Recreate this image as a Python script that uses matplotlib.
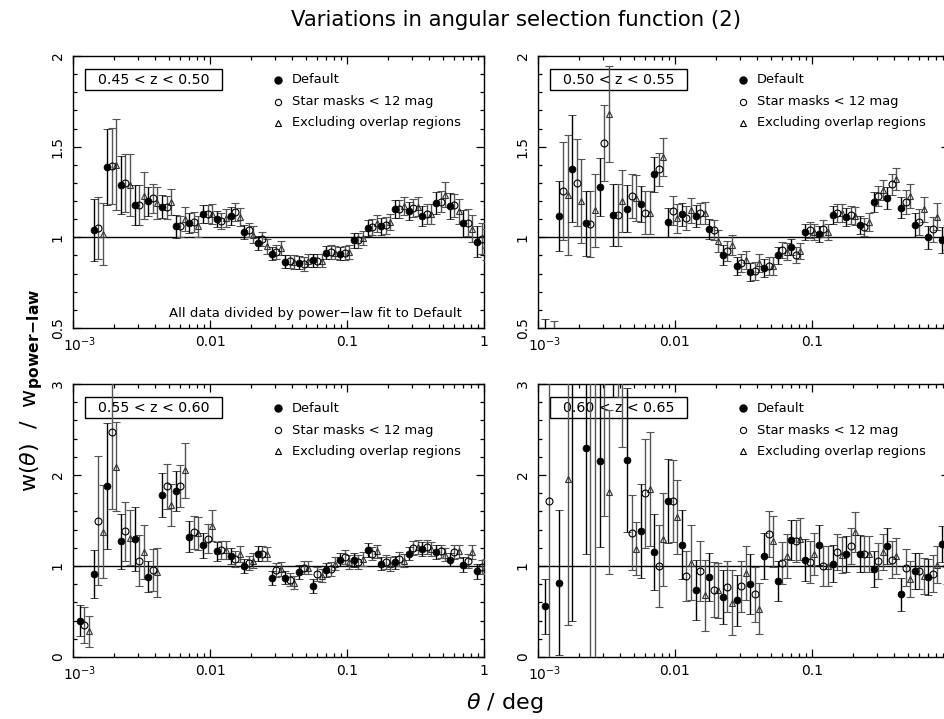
import numpy as np
import matplotlib
matplotlib.use("Agg")
import matplotlib.pyplot as plt
import matplotlib.transforms as mtransforms
from matplotlib.ticker import FixedLocator, FixedFormatter, MultipleLocator, LogLocator, NullFormatter
from matplotlib.patches import Rectangle

nan = np.nan

# angular bins (deg)
theta = [0.001122, 0.001413, 0.001778, 0.002239, 0.002818, 0.003548, 0.004467, 0.005623,
         0.007079, 0.008913, 0.01122, 0.01413, 0.01778, 0.02239, 0.02818, 0.03548, 0.04467,
         0.05623, 0.07079, 0.08913, 0.1122, 0.1413, 0.1778, 0.2239, 0.2818, 0.3548, 0.4467,
         0.5623, 0.7079, 0.8913]

labels_z = ["0.45 < z < 0.50", "0.50 < z < 0.55", "0.55 < z < 0.60", "0.60 < z < 0.65"]
series_names = ["Default", "Star masks < 12 mag", "Excluding overlap regions"]

# ---- panel 1 : 0.45 < z < 0.50
p1_def = [nan, 1.04, 1.39, 1.29, 1.18, 1.20, 1.17, 1.06, 1.08, 1.13, 1.10, 1.12, 1.03, 0.97, 0.91,
          0.866, 0.86, 0.873, 0.915, 0.91, 0.983, 1.05, 1.06, 1.154, 1.147, 1.116, 1.19, 1.173, 1.077, 0.976]
p1_def_e = [nan, 0.17, 0.21, 0.16, 0.11, 0.08, 0.065, 0.063, 0.055, 0.05, 0.045, 0.05, 0.04, 0.038, 0.037,
            0.036, 0.036, 0.036, 0.037, 0.037, 0.04, 0.045, 0.045, 0.05, 0.05, 0.055, 0.06, 0.07, 0.075, 0.085]
p1_str = [nan, 1.05, 1.395, 1.30, 1.18, 1.215, 1.165, 1.06, 1.085, 1.13, 1.09, 1.14, 1.04, 0.99, 0.92,
          0.868, 0.853, 0.87, 0.92, 0.914, 0.983, 1.057, 1.066, 1.156, 1.16, 1.127, 1.197, 1.176, 1.08, 0.993]
p1_str_e = [nan, 0.17, 0.21, 0.16, 0.11, 0.08, 0.065, 0.06, 0.055, 0.05, 0.045, 0.05, 0.04, 0.04, 0.037,
            0.036, 0.036, 0.036, 0.037, 0.037, 0.04, 0.045, 0.045, 0.05, 0.05, 0.055, 0.06, 0.065, 0.075, 0.085]
p1_exc = [nan, 1.02, 1.40, 1.29, 1.23, 1.19, 1.195, 1.10, 1.06, 1.13, 1.105, 1.11, 1.015, 0.95, 0.94,
          0.864, 0.87, 0.87, 0.915, 0.92, 0.996, 1.077, 1.085, 1.173, 1.17, 1.129, 1.235, 1.143, 1.048, 0.96]
p1_exc_e = [nan, 0.17, 0.25, 0.17, 0.13, 0.09, 0.07, 0.065, 0.06, 0.055, 0.05, 0.05, 0.045, 0.04, 0.04,
            0.036, 0.036, 0.036, 0.037, 0.037, 0.04, 0.045, 0.045, 0.05, 0.05, 0.055, 0.07, 0.07, 0.075, 0.085]

# ---- panel 2 : 0.50 < z < 0.55
p2_def = [0.40, 1.118, 1.377, 1.077, 1.276, 1.123, 1.158, 1.184, 1.347, 1.083, 1.127, 1.118, 1.044, 0.904, 0.84,
          0.81, 0.833, 0.90, 0.945, 1.028, 1.02, 1.123, 1.112, 1.068, 1.193, 1.215, 1.164, 1.068, 1.0, 0.985]
p2_def_e = [0.15, 0.195, 0.295, 0.18, 0.16, 0.17, 0.13, 0.10, 0.095, 0.08, 0.065, 0.06, 0.055, 0.055, 0.05,
            0.05, 0.05, 0.045, 0.045, 0.045, 0.045, 0.05, 0.05, 0.05, 0.055, 0.06, 0.06, 0.065, 0.065, 0.07]
p2_str = [nan, 1.257, 1.30, 1.074, 1.522, 1.123, 1.228, 1.136, 1.375, 1.147, 1.107, 1.132, 1.04, 0.926, 0.857,
          0.816, 0.844, 0.93, 0.903, 1.04, 1.048, 1.136, 1.125, 1.057, 1.226, 1.292, 1.195, 1.085, 1.044, 1.0]
p2_str_e = [nan, 0.27, 0.24, 0.18, 0.21, 0.17, 0.12, 0.12, 0.09, 0.08, 0.065, 0.06, 0.055, 0.055, 0.05,
            0.05, 0.05, 0.045, 0.045, 0.045, 0.045, 0.05, 0.05, 0.05, 0.055, 0.06, 0.065, 0.07, 0.07, 0.07]
p2_exc = [0.38, 1.235, 1.20, 1.149, 1.678, 1.20, 1.217, 1.136, 1.443, 1.105, 1.149, 1.136, 0.98, 0.958, 0.877,
          0.857, 0.842, 0.921, 0.923, 1.031, 1.03, 1.134, 1.12, 1.083, 1.26, 1.32, 1.228, 1.154, 1.114, 1.0]
p2_exc_e = [0.16, 0.33, 0.23, 0.20, 0.265, 0.17, 0.125, 0.12, 0.105, 0.08, 0.07, 0.06, 0.06, 0.055, 0.05,
            0.05, 0.05, 0.045, 0.045, 0.045, 0.045, 0.05, 0.05, 0.05, 0.055, 0.06, 0.065, 0.07, 0.075, 0.075]

# ---- panel 3 : 0.55 < z < 0.60
p3_def = [0.396, 0.91, 1.88, 1.27, 1.30, 0.88, 1.78, 1.82, 1.32, 1.228, 1.16, 1.107, 1.0, 1.137, 0.865,
          0.873, 0.935, 0.777, 0.953, 1.07, 1.063, 1.173, 1.027, 1.04, 1.137, 1.19, 1.155, 1.07, 1.015, 0.94]
p3_def_e = [0.17, 0.265, 0.69, 0.30, 0.35, 0.17, 0.24, 0.22, 0.17, 0.14, 0.10, 0.09, 0.08, 0.08, 0.075,
            0.075, 0.075, 0.075, 0.075, 0.075, 0.075, 0.075, 0.075, 0.075, 0.075, 0.075, 0.075, 0.075, 0.08, 0.08]
p3_str = [0.352, 1.50, 2.475, 1.38, 1.056, 0.953, 1.874, 1.877, 1.37, 1.30, 1.18, 1.074, 1.034, 1.137, 0.953,
          0.85, 0.983, 0.91, 0.968, 1.10, 1.045, 1.137, 1.045, 1.078, 1.20, 1.21, 1.16, 1.155, 1.056, 0.99]
p3_str_e = [0.20, 0.71, 0.85, 0.32, 0.28, 0.23, 0.25, 0.23, 0.18, 0.16, 0.10, 0.09, 0.08, 0.08, 0.075,
            0.075, 0.075, 0.075, 0.075, 0.075, 0.075, 0.075, 0.075, 0.075, 0.075, 0.075, 0.075, 0.075, 0.08, 0.08]
p3_exc = [0.282, 1.375, 2.09, 1.31, 1.155, 0.93, 1.67, 2.05, 1.36, 1.44, 1.18, 1.13, 1.06, 1.13, 0.97,
          0.818, 0.983, 0.895, 1.027, 1.045, 1.08, 1.16, 1.023, 1.06, 1.21, 1.19, 1.126, 1.16, 1.155, 1.0]
p3_exc_e = [0.17, 0.51, 0.49, 0.30, 0.30, 0.27, 0.23, 0.30, 0.18, 0.17, 0.10, 0.09, 0.08, 0.08, 0.075,
            0.075, 0.075, 0.075, 0.075, 0.075, 0.075, 0.075, 0.075, 0.075, 0.075, 0.075, 0.075, 0.075, 0.08, 0.08]

# ---- panel 4 : 0.60 < z < 0.65
p4_def = [0.557, 0.818, 3.6, 2.30, 2.156, 3.6, 2.164, 1.383, 1.155, 1.716, 1.236, 0.74, 0.88, 0.66, 0.623,
          0.807, 1.11, 0.836, 1.283, 1.063, 1.228, 1.027, 1.13, 1.137, 0.964, 1.221, 0.69, 0.942, 0.88, 1.24]
p4_def_e = [0.30, 0.80, 3.2, 1.17, 0.95, 0.74, 0.79, 0.52, 0.42, 0.46, 0.38, 0.33, 0.26, 0.30, 0.28,
            0.33, 0.25, 0.22, 0.22, 0.23, 0.22, 0.20, 0.20, 0.20, 0.20, 0.20, 0.18, 0.20, 0.20, 0.20]
p4_str = [1.716, nan, nan, -1.0, 3.2, 3.7, 1.368, 1.797, 1.0, 1.712, 0.89, 0.94, 0.74, 0.77, 0.78,
          0.69, 1.35, 1.034, 1.276, 1.045, 0.997, 1.155, 1.217, 1.13, 1.056, 1.07, 0.983, 0.946, 0.917, 1.0]
p4_str_e = [2.5, nan, nan, 4.5, 1.65, 0.84, 0.41, 0.60, 0.45, 0.45, 0.27, 0.33, 0.30, 0.28, 0.28,
            0.30, 0.25, 0.23, 0.23, 0.23, 0.22, 0.20, 0.20, 0.20, 0.20, 0.20, 0.20, 0.20, 0.20, 0.20]
p4_exc = [nan, 1.955, nan, 4.0, 1.815, 3.6, 1.19, 1.845, 1.294, 1.54, 1.038, 0.678, 0.733, 0.598, 0.924,
          0.532, 1.27, 1.11, 1.298, 1.13, 0.997, 1.118, 1.375, 1.13, 1.155, 1.11, 0.854, 0.887, 1.016, 1.0]
p4_exc_e = [nan, 1.6, nan, 4.5, 0.90, 1.29, 0.29, 0.63, 0.51, 0.41, 0.41, 0.39, 0.30, 0.36, 0.30,
            0.28, 0.28, 0.24, 0.23, 0.23, 0.22, 0.20, 0.22, 0.20, 0.20, 0.20, 0.20, 0.20, 0.20, 0.20]

panels = [
    (p1_def, p1_def_e, p1_str, p1_str_e, p1_exc, p1_exc_e),
    (p2_def, p2_def_e, p2_str, p2_str_e, p2_exc, p2_exc_e),
    (p3_def, p3_def_e, p3_str, p3_str_e, p3_exc, p3_exc_e),
    (p4_def, p4_def_e, p4_str, p4_str_e, p4_exc, p4_exc_e),
]
ylims = [(0.5, 2.0), (0.5, 2.0), (0.0, 3.0), (0.0, 3.0)]

plt.rcParams['font.family'] = ['DejaVu Sans']
plt.rcParams['mathtext.fontset'] = 'dejavusans'

W, H = 944, 719
fig = plt.figure(figsize=(W / 100, H / 100), dpi=100)

# panel frames in pixels: (left, top, right, bottom)
frames = [(73, 56, 484, 328), (538, 56, 949, 328), (73, 384, 484, 657), (538, 384, 949, 657)]

th = np.array(theta)
off_c = 10 ** 0.033
off_t = 10 ** 0.066
grey = '#555555'

for i, (fr, data, yl, zl) in enumerate(zip(frames, panels, ylims, labels_z)):
    l, t, r, b = fr
    ax = fig.add_axes([l / W, 1 - b / H, (r - l) / W, (b - t) / H])
    ax.set_xscale('log')
    ax.set_xlim(1e-3, 1)
    ax.set_ylim(*yl)
    d, de, s, se, e, ee = data
    ax.axhline(1.0, color='black', lw=1.0, zorder=2)
    ax.errorbar(th * off_t, e, yerr=ee, fmt='^', ms=4.2, mfc='none', mec='#333333', mew=0.8,
                ecolor=grey, elinewidth=1.0, capsize=3.2, capthick=1.0, zorder=3)
    ax.errorbar(th * off_c, s, yerr=se, fmt='o', ms=5.0, mfc='none', mec='black', mew=0.8,
                ecolor=grey, elinewidth=1.0, capsize=3.2, capthick=1.0, zorder=4)
    ax.errorbar(th, d, yerr=de, fmt='o', ms=5.0, mfc='black', mec='black', mew=0.5,
                ecolor='black', elinewidth=1.0, capsize=3.2, capthick=1.0, zorder=5)

    # redshift box
    ax.add_patch(Rectangle((0.029, 0.875), 0.334, 0.077, transform=ax.transAxes,
                           facecolor='white', edgecolor='black', lw=1.0, zorder=1))
    ax.text(0.196, 0.9135, zl, transform=ax.transAxes, ha='center', va='center',
            fontsize=10.2, zorder=1.5)

    # legend
    ly = [0.912, 0.831, 0.754]
    ax.plot([0.499], [ly[0]], 'o', ms=5, mfc='black', mec='black', transform=ax.transAxes)
    ax.plot([0.499], [ly[1]], 'o', ms=4.5, mfc='none', mec='black', mew=0.8, transform=ax.transAxes)
    ax.plot([0.499], [ly[2]], '^', ms=4.2, mfc='none', mec='black', mew=0.8, transform=ax.transAxes)
    for yy, nm in zip(ly, series_names):
        ax.text(0.533, yy, nm, transform=ax.transAxes, ha='left', va='center', fontsize=9.4)

    if i == 0:
        ax.text(0.947, 0.055, "All data divided by power\u2212law fit to Default",
                transform=ax.transAxes, ha='right', va='center', fontsize=9.5)

    xlabs = [r'$10^{-3}$', '0.01', '0.1', '1'] if l < 500 else [r'$10^{-3}$', '0.01', '0.1', '']
    ax.xaxis.set_major_locator(FixedLocator([1e-3, 1e-2, 1e-1, 1]))
    ax.xaxis.set_major_formatter(FixedFormatter(xlabs))
    ax.xaxis.set_minor_locator(LogLocator(base=10, subs=np.arange(2, 10)))
    ax.xaxis.set_minor_formatter(NullFormatter())
    if yl[1] == 2.0:
        ax.yaxis.set_major_locator(FixedLocator([0.5, 1.0, 1.5, 2.0]))
        ax.yaxis.set_major_formatter(FixedFormatter(['0.5', '1', '1.5', '2']))
        ax.yaxis.set_minor_locator(MultipleLocator(0.1))
    else:
        ax.yaxis.set_major_locator(FixedLocator([0, 1, 2, 3]))
        ax.yaxis.set_major_formatter(FixedFormatter(['0', '1', '2', '3']))
        ax.yaxis.set_minor_locator(MultipleLocator(0.2))
    ax.tick_params(which='both', direction='in', top=True, right=True, width=0.9)
    ax.tick_params(which='major', length=6, labelsize=10, pad=4)
    ax.tick_params(axis='y', which='major', pad=6)
    ax.tick_params(axis='x', which='major', pad=5)
    ax.tick_params(which='minor', length=3)
    for lab in ax.get_yticklabels():
        lab.set_rotation(90)
        lab.set_va('center')
    # nudge the 10^-3 label right, as in the reference
    first = ax.get_xticklabels()[0]
    first.set_transform(first.get_transform() +
                        mtransforms.ScaledTranslation(7 / 100, 0, fig.dpi_scale_trans))
    for sp in ax.spines.values():
        sp.set_linewidth(1.0)

fig.text(516 / W, 1 - 20 / H, "Variations in angular selection function (2)",
         ha='center', va='center', fontsize=15.3)
fig.text(505 / W, 1 - 703 / H, r"$\theta$ / deg", ha='center', va='center', fontsize=16)
fig.text(32 / W, 1 - 390 / H, r"w($\theta$)  /  w$_{\mathbf{power\!-\!law}}$", ha='center', va='center',
         rotation=90, fontsize=16)

fig.savefig("out.png", dpi=100)
